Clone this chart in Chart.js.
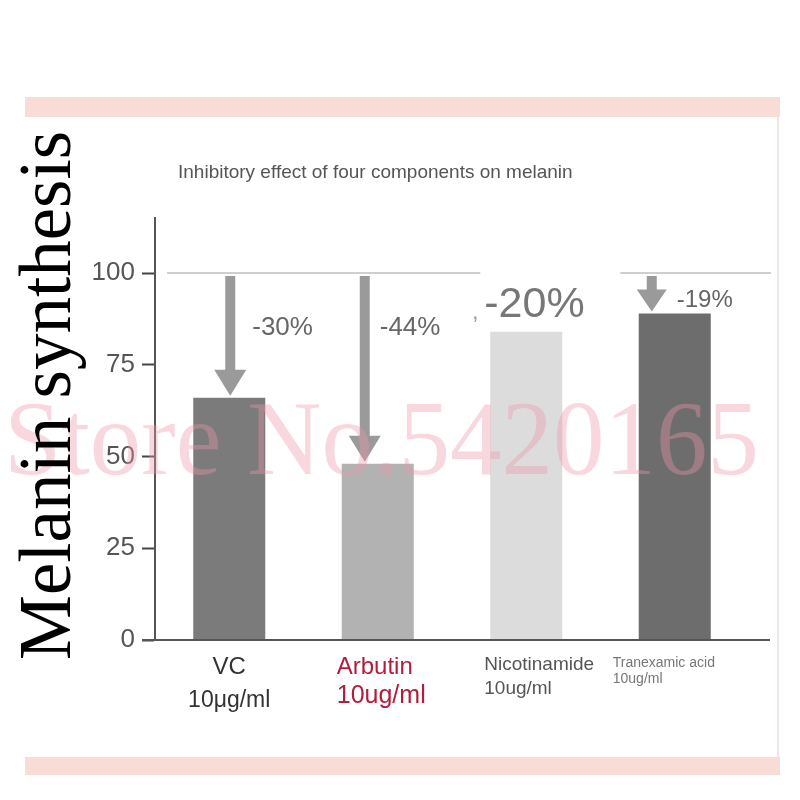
<!DOCTYPE html>
<html>
<head>
<meta charset="utf-8">
<script src="https://cdn.jsdelivr.net/npm/chart.js@4"></script>
<style>
  body { margin: 0; background: #fff; }
  #wrap { width: 800px; height: 800px; }
</style>
</head>
<body>
<div id="wrap"><canvas id="chart" width="800" height="800"></canvas></div>
<script>
// values
const categories = ['VC', 'Arbutin', 'Nicotinamide', 'Tranexamic acid'];
const doses = ['10μg/ml', '10ug/ml', '10ug/ml', '10ug/ml'];
const melanin = [66, 48, 84, 89];
const reductions = ['-30%', '-44%', '-20%', '-19%'];
const yTicks = [0, 25, 50, 75, 100];
const control = 100;

const barColors = ['#7b7b7b', '#b2b2b2', '#dcdcdc', '#6d6d6d'];
const FONT = "'Liberation Sans', Arial, sans-serif";
const SERIF = "'Liberation Serif', 'Times New Roman', serif";

// per-bar annotation styling
const arrowShow = [true, true, false, true];
const arrowDx = [1, -13, 0, -23];
const pctStyle = [
  { dx: 23, dy: 55, size: 26, color: '#666' },
  { dx: 2, dy: 55, size: 26, color: '#666' },
  { dx: -42, dy: 32, size: 43, color: '#777' },
  { dx: 2, dy: 27, size: 24, color: '#666' }
];
const labelStyle = [
  { align: 'center', dx: 0, size1: 24, size2: 23, gap: 33, color: '#333' },
  { align: 'left', dx: -41, size1: 24, size2: 25, gap: 29, color: '#b31c3b' },
  { align: 'left', dx: -42, size1: 19, size2: 19, gap: 24, color: '#555' },
  { align: 'left', dx: -62, size1: 14, size2: 14, gap: 16, color: '#777' }
];

function arrow(ctx, x, yTop, yTip, shaftW, headW, headH) {
  ctx.beginPath();
  ctx.moveTo(x - shaftW / 2, yTop);
  ctx.lineTo(x + shaftW / 2, yTop);
  ctx.lineTo(x + shaftW / 2, yTip - headH);
  ctx.lineTo(x + headW / 2, yTip - headH);
  ctx.lineTo(x, yTip);
  ctx.lineTo(x - headW / 2, yTip - headH);
  ctx.lineTo(x - shaftW / 2, yTip - headH);
  ctx.closePath();
  ctx.fill();
}

const decor = {
  id: 'decor',
  beforeDraw(chart) {
    const ctx = chart.ctx;
    ctx.save();
    ctx.fillStyle = '#fff';
    ctx.fillRect(0, 0, chart.width, chart.height);
    ctx.fillStyle = '#fadcd6';
    ctx.fillRect(25, 97, 755, 20);
    ctx.fillRect(25, 757, 755, 18);
    ctx.fillStyle = '#f1e4e4';
    ctx.fillRect(777, 117, 2, 640);
    ctx.restore();
  },
  beforeDatasetsDraw(chart) {
    const { ctx, scales: { x, y }, chartArea } = chart;
    const yc = y.getPixelForValue(control);
    ctx.save();
    ctx.strokeStyle = '#cfcfcf';
    ctx.lineWidth = 2;
    ctx.beginPath();
    ctx.moveTo(chartArea.left + 12, yc);
    ctx.lineTo(x.getPixelForValue(2) - 46, yc);
    ctx.moveTo(x.getPixelForValue(2) + 94, yc);
    ctx.lineTo(chartArea.right + 22, yc);
    ctx.stroke();
    ctx.restore();
  },
  afterDatasetsDraw(chart) {
    const { ctx, scales: { x, y }, chartArea } = chart;
    const yc = y.getPixelForValue(control);
    ctx.save();
    // arrows
    ctx.fillStyle = '#9a9a9a';
    melanin.forEach((v, i) => {
      if (!arrowShow[i]) return;
      const cx = x.getPixelForValue(i) + arrowDx[i];
      const tip = y.getPixelForValue(v) - 2;
      const short = tip - yc < 60;
      arrow(ctx, cx, yc + 3, tip, 10, short ? 30 : 32, short ? 22 : 26);
    });
    // reduction labels
    ctx.textBaseline = 'middle';
    ctx.textAlign = 'left';
    reductions.forEach((t, i) => {
      const s = pctStyle[i];
      const cx = x.getPixelForValue(i) + s.dx;
      ctx.fillStyle = s.color;
      ctx.font = s.size + 'px ' + FONT;
      ctx.fillText(t, cx, yc + s.dy);
    });
    ctx.fillStyle = '#999';
    ctx.font = '22px ' + FONT;
    ctx.fillText(',', x.getPixelForValue(2) - 54, yc + 40);
    // category labels
    ctx.textBaseline = 'alphabetic';
    categories.forEach((c, i) => {
      const s = labelStyle[i];
      const cx = x.getPixelForValue(i) + s.dx;
      ctx.textAlign = s.align;
      ctx.fillStyle = s.color;
      ctx.font = s.size1 + 'px ' + FONT;
      const base = chartArea.bottom + 16 + s.size1 * 0.75;
      ctx.fillText(c, cx, base);
      ctx.font = s.size2 + 'px ' + FONT;
      ctx.fillText(doses[i], cx, base + s.gap);
    });
    // x axis line
    ctx.strokeStyle = '#555';
    ctx.lineWidth = 2;
    ctx.beginPath();
    ctx.moveTo(chartArea.left - 13, chartArea.bottom);
    ctx.lineTo(chartArea.right + 21, chartArea.bottom);
    ctx.stroke();
    ctx.restore();
  },
  afterDraw(chart) {
    const ctx = chart.ctx;
    ctx.save();
    ctx.fillStyle = '#555';
    ctx.font = '19px ' + FONT;
    ctx.textAlign = 'left';
    ctx.textBaseline = 'alphabetic';
    ctx.fillText('Inhibitory effect of four components on melanin', 178, 178);
    // watermark, fitted to its width in the picture
    const mark = 'Store No.5420165';
    ctx.save();
    ctx.fillStyle = 'rgba(236, 150, 168, 0.38)';
    ctx.font = '105px ' + SERIF;
    const k = 755 / ctx.measureText(mark).width;
    ctx.translate(4, 474);
    ctx.scale(k, 1);
    ctx.fillText(mark, 0, 0);
    ctx.restore();
    // side title
    ctx.translate(70, 660);
    ctx.rotate(-Math.PI / 2);
    ctx.fillStyle = '#000';
    ctx.font = '73px ' + SERIF;
    ctx.fillText('Melanin synthesis', 0, 0);
    ctx.restore();
  }
};

new Chart(document.getElementById('chart'), {
  type: 'bar',
  data: {
    labels: categories,
    datasets: [{
      data: melanin,
      backgroundColor: barColors,
      barPercentage: 0.485,
      categoryPercentage: 1
    }]
  },
  options: {
    responsive: false,
    animation: false,
    layout: { padding: { left: 0, top: 218, right: 51, bottom: 150 } },
    plugins: { legend: { display: false }, tooltip: { enabled: false } },
    scales: {
      x: {
        ticks: { display: false },
        grid: { display: false },
        border: { display: false },
        afterFit: s => { s.height = 10; }
      },
      y: {
        min: 0,
        max: 115,
        afterBuildTicks: s => { s.ticks = yTicks.map(v => ({ value: v })); },
        afterFit: s => { s.width = 155; },
        ticks: { color: '#555', font: { family: FONT, size: 26 }, padding: 7 },
        grid: { drawOnChartArea: false, tickLength: 13, tickWidth: 2, tickColor: '#444' },
        border: { color: '#555', width: 2 }
      }
    }
  },
  plugins: [decor]
});
</script>
</body>
</html>
